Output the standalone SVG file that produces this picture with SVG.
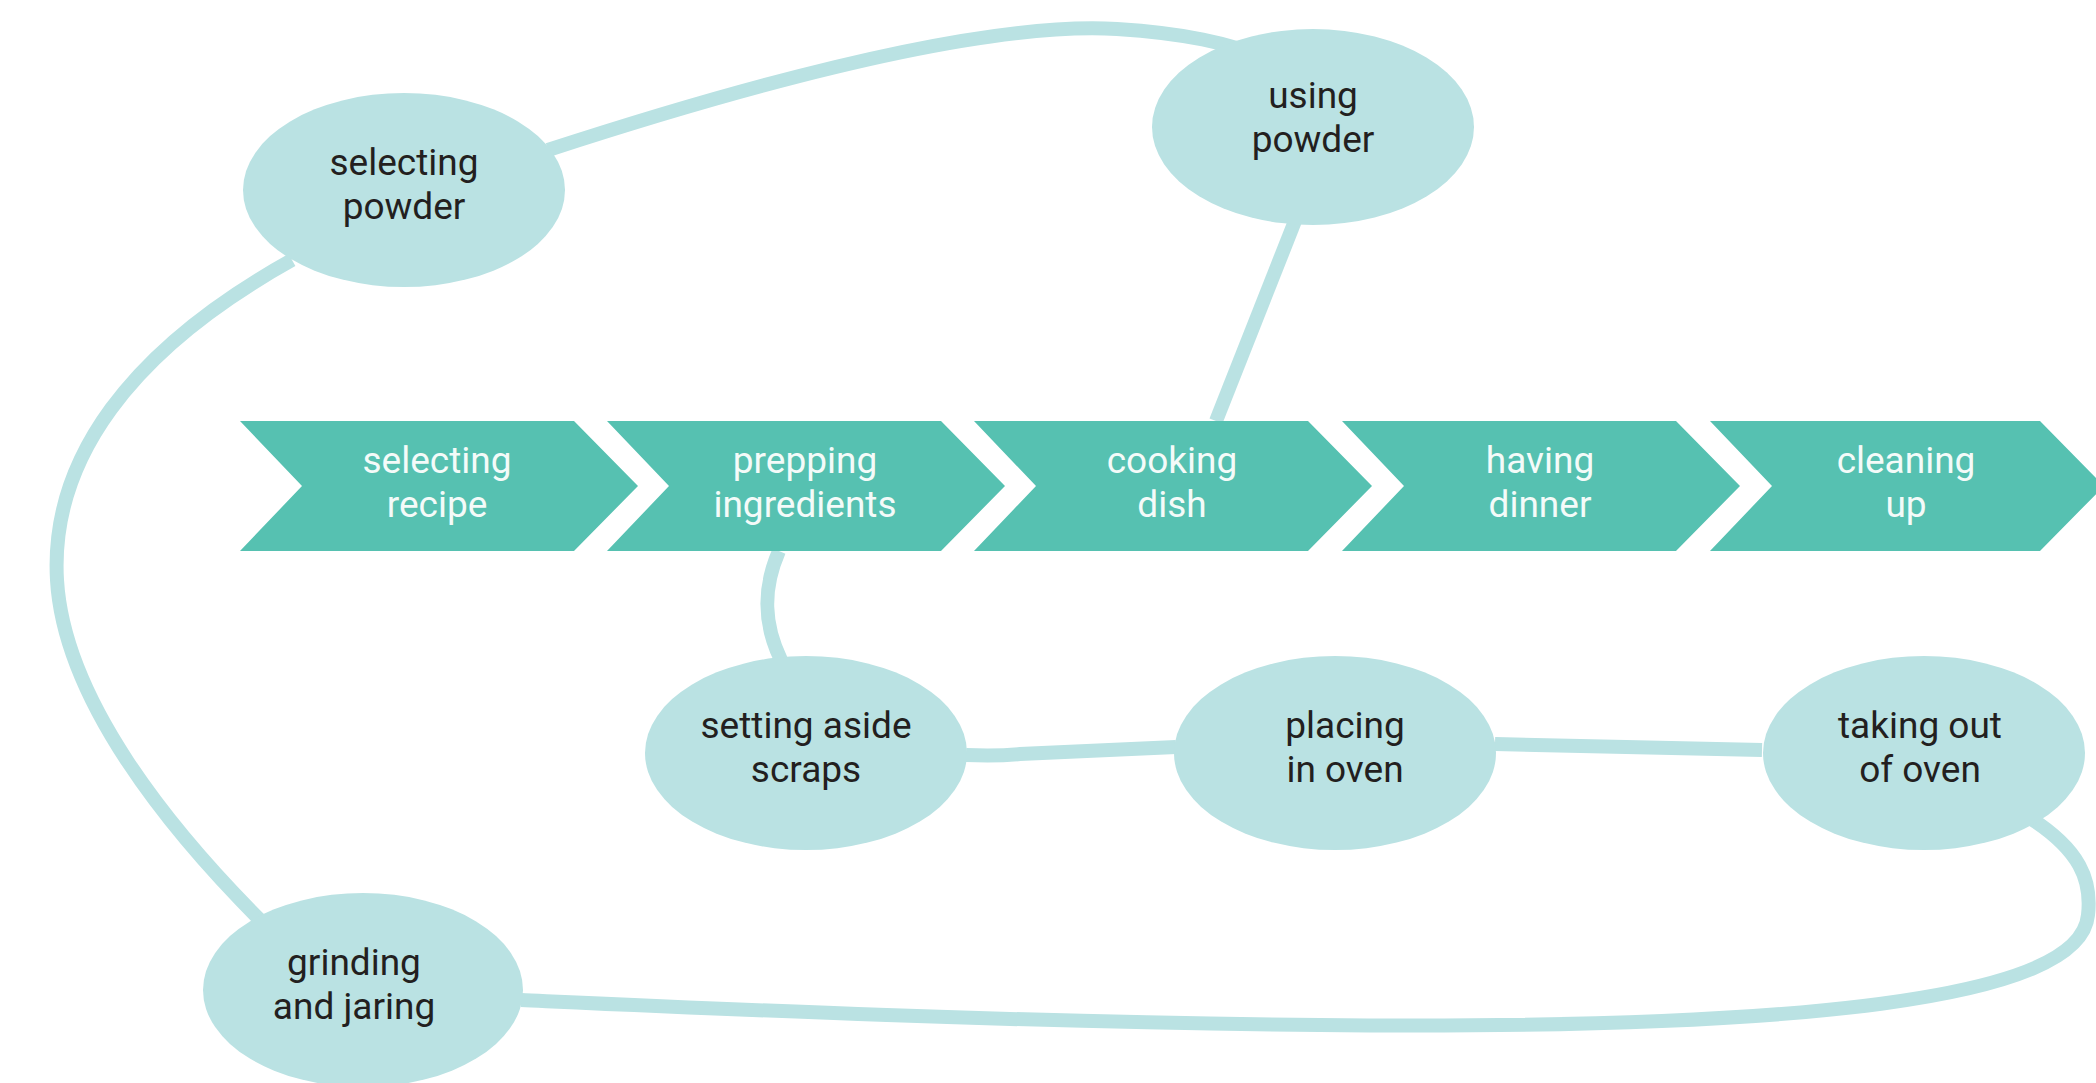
<svg xmlns="http://www.w3.org/2000/svg" width="2096" height="1083" viewBox="0 0 2096 1083">
<style>
.conn{fill:none;stroke:#bae2e3;stroke-width:14;stroke-linecap:butt}
.chev{fill:#56c1b1}
.ell{fill:#bae2e3}
.ct{font-family:Roboto,"Liberation Sans",sans-serif;font-size:37px;fill:#f4fbf9;text-anchor:middle}
.et{font-family:Roboto,"Liberation Sans",sans-serif;font-size:37px;fill:#231f20;text-anchor:middle}
</style>
<rect width="2096" height="1083" fill="#ffffff"/>
<g id="connectors">
<path class="conn" d="M 548 150 C 800 68, 1000 22, 1117 29 C 1180 33, 1230 42, 1275 62"/>
<path class="conn" d="M 292 260 C 130 350, 50 460, 57 580 C 64 700, 170 830, 262 922"/>
<path class="conn" d="M 1295 221 L 1216 421"/>
<path class="conn" d="M 779 551 C 762 590, 764 625, 781 660"/>
<path class="conn" d="M 966 755 C 990 756, 1000 756, 1020 754 L 1176 747"/>
<path class="conn" d="M 1495 744 L 1762 750"/>
<path class="conn" d="M 2030 818 C 2080 850, 2092 880, 2088 915 C 2080 1000, 1800 1030, 1320 1025 C 1000 1022, 700 1008, 521 1000"/>
</g>
<g id="chevron-selecting-recipe">
<polygon class="chev" points="240,421 574,421 638,486 574,551 240,551 302,486"/>
<text class="ct" x="437" y="473">selecting</text>
<text class="ct" x="437" y="517">recipe</text>
</g>
<g id="chevron-prepping-ingredients">
<polygon class="chev" points="607,421 941,421 1005,486 941,551 607,551 669,486"/>
<text class="ct" x="805" y="473">prepping</text>
<text class="ct" x="805" y="517">ingredients</text>
</g>
<g id="chevron-cooking-dish">
<polygon class="chev" points="974,421 1308,421 1372,486 1308,551 974,551 1036,486"/>
<text class="ct" x="1172" y="473">cooking</text>
<text class="ct" x="1172" y="517">dish</text>
</g>
<g id="chevron-having-dinner">
<polygon class="chev" points="1342,421 1676,421 1740,486 1676,551 1342,551 1404,486"/>
<text class="ct" x="1540" y="473">having</text>
<text class="ct" x="1540" y="517">dinner</text>
</g>
<g id="chevron-cleaning-up">
<polygon class="chev" points="1710,421 2040,421 2104,486 2040,551 1710,551 1772,486"/>
<text class="ct" x="1906" y="473">cleaning</text>
<text class="ct" x="1906" y="517">up</text>
</g>
<g id="node-selecting-powder">
<ellipse class="ell" cx="404" cy="190" rx="161" ry="97"/>
<text class="et" x="404" y="175">selecting</text>
<text class="et" x="404" y="219">powder</text>
</g>
<g id="node-using-powder">
<ellipse class="ell" cx="1313" cy="127" rx="161" ry="98"/>
<text class="et" x="1313" y="108">using</text>
<text class="et" x="1313" y="152">powder</text>
</g>
<g id="node-setting-aside-scraps">
<ellipse class="ell" cx="806" cy="753" rx="161" ry="97"/>
<text class="et" x="806" y="738">setting aside</text>
<text class="et" x="806" y="782">scraps</text>
</g>
<g id="node-placing-in-oven">
<ellipse class="ell" cx="1335" cy="753" rx="161" ry="97"/>
<text class="et" x="1345" y="738">placing</text>
<text class="et" x="1345" y="782">in oven</text>
</g>
<g id="node-taking-out-of-oven">
<ellipse class="ell" cx="1924" cy="753" rx="161" ry="97"/>
<text class="et" x="1920" y="738">taking out</text>
<text class="et" x="1920" y="782">of oven</text>
</g>
<g id="node-grinding-and-jaring">
<ellipse class="ell" cx="363" cy="990" rx="160" ry="97"/>
<text class="et" x="354" y="975">grinding</text>
<text class="et" x="354" y="1019">and jaring</text>
</g>
</svg>
